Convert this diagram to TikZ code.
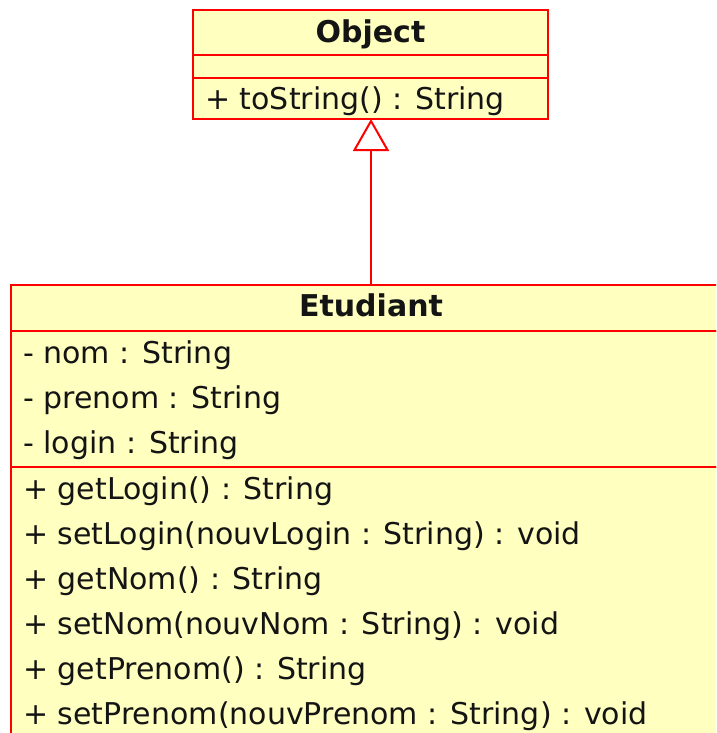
\documentclass[tikz,border=0pt]{standalone}
\usepackage{fontspec}
\setmainfont{DejaVu Sans}
\usepackage{tikz}
\usetikzlibrary{arrows.meta,positioning}
\definecolor{umlfill}{RGB}{255,255,192}
\definecolor{umlline}{RGB}{255,0,0}
\definecolor{ink}{RGB}{20,20,20}

\begin{document}
\begin{tikzpicture}[x=1pt,y=-1pt,font=\fontsize{30}{36}\selectfont]
\tikzset{part/.style={draw=umlline,fill=umlfill,line width=2pt,inner sep=0pt,outer sep=0pt,anchor=north west},
  cname/.style={anchor=base,inner sep=0pt,font=\fontsize{30}{36}\selectfont\bfseries,text=ink},
  member/.style={anchor=base west,inner sep=0pt,text=ink},
  inherit/.style={draw=umlline,line width=2pt,-{Triangle[length=32pt,width=36pt,fill=white]}}}
\clip (0,0) rectangle (716,733);
\fill[white] (0,0) rectangle (716,733);
% class Object
\node[part,minimum width=355,minimum height=45] (objtitle) at (193,10) {};
\node[part,minimum width=355,minimum height=23] (objattr) at (193,55) {};
\node[part,minimum width=355,minimum height=41] (objops) at (193,78) {};
\node[cname] (objname) at (370.5,43) {Object};
\node[member] (tostring) at (205,110) {+ toString() : String};
% class Etudiant
\node[part,minimum width=720,minimum height=46] (etutitle) at (11,285) {};
\node[part,minimum width=720,minimum height=136] (etuattr) at (11,331) {};
\node[part,minimum width=720,minimum height=300] (etuops) at (11,467) {};
\node[cname] (etuname) at (371,316) {Etudiant};
\foreach \txt [count=\i from 0] in {nom,prenom,login}
  \node[member] (attr\i) at (23,363+45*\i) {- \txt\ : String};
\foreach \txt [count=\i from 0] in {getLogin() : String,setLogin(nouvLogin : String) : void,getNom() : String,setNom(nouvNom : String) : void,getPrenom() : String,setPrenom(nouvPrenom : String) : void}
  \node[member] (op\i) at (23,499+45*\i) {+ \txt};
% generalisation
\draw[inherit] (etutitle.north) -- (etutitle.north |- objops.south);
\end{tikzpicture}
\end{document}
